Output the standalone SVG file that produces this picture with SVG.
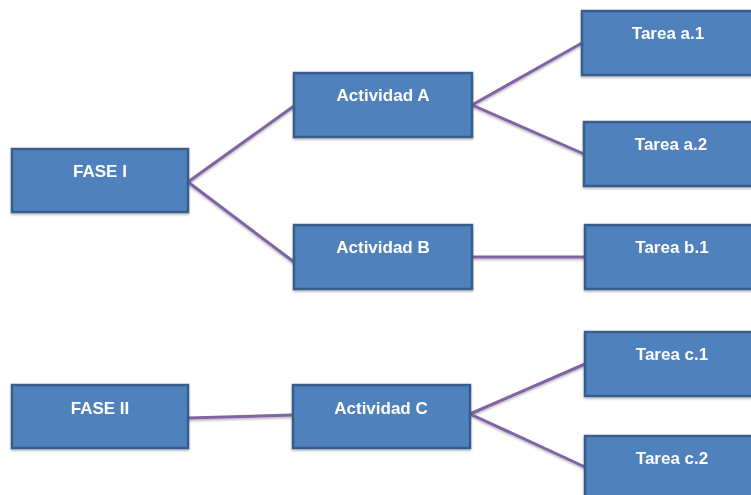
<svg xmlns="http://www.w3.org/2000/svg" width="751" height="495" viewBox="0 0 751 495">
  <style>
    .box { fill: #4f81bd; stroke: #385d8a; stroke-width: 2.5; }
    .lbl { fill: #ffffff; font-family: "Liberation Sans", Arial, sans-serif; font-weight: bold; font-size: 17px; text-anchor: middle; }
    .link { stroke: #8064a2; stroke-width: 3; fill: none; stroke-linecap: round; }
  </style>
  <defs>
    <filter id="shadow" x="-10%" y="-10%" width="120%" height="130%">
      <feDropShadow dx="0" dy="1.5" stdDeviation="1.2" flood-color="#000000" flood-opacity="0.3"/>
    </filter>
  </defs>
  <rect width="751" height="495" fill="#ffffff"/>

  <!-- connectors -->
  <g id="connectors" filter="url(#shadow)">
    <line class="link" x1="188" y1="182" x2="294" y2="106"/>
    <line class="link" x1="188" y1="182" x2="294" y2="262"/>
    <line class="link" x1="472" y1="105" x2="582" y2="43"/>
    <line class="link" x1="472" y1="105" x2="584" y2="154"/>
    <line class="link" x1="472" y1="257" x2="585" y2="257"/>
    <line class="link" x1="188" y1="418" x2="293" y2="415"/>
    <line class="link" x1="470" y1="414" x2="585" y2="364"/>
    <line class="link" x1="470" y1="414" x2="585" y2="467"/>
  </g>

  <!-- phase nodes -->
  <g id="fase1" filter="url(#shadow)">
    <rect class="box" x="12" y="149" width="176" height="63"/>
    <text class="lbl" x="100" y="177">FASE I</text>
  </g>
  <g id="fase2" filter="url(#shadow)">
    <rect class="box" x="12" y="385" width="176" height="63"/>
    <text class="lbl" x="100" y="414">FASE II</text>
  </g>

  <!-- activity nodes -->
  <g id="actividadA" filter="url(#shadow)">
    <rect class="box" x="294" y="73" width="178" height="64"/>
    <text class="lbl" x="383" y="101">Actividad A</text>
  </g>
  <g id="actividadB" filter="url(#shadow)">
    <rect class="box" x="294" y="225" width="178" height="64"/>
    <text class="lbl" x="383" y="253">Actividad B</text>
  </g>
  <g id="actividadC" filter="url(#shadow)">
    <rect class="box" x="293" y="385" width="177" height="63"/>
    <text class="lbl" x="381" y="414">Actividad C</text>
  </g>

  <!-- task nodes -->
  <g id="tareaA1" filter="url(#shadow)">
    <rect class="box" x="582" y="11" width="180" height="64"/>
    <text class="lbl" x="668" y="39">Tarea a.1</text>
  </g>
  <g id="tareaA2" filter="url(#shadow)">
    <rect class="box" x="584" y="122" width="180" height="64"/>
    <text class="lbl" x="671" y="150">Tarea a.2</text>
  </g>
  <g id="tareaB1" filter="url(#shadow)">
    <rect class="box" x="585" y="225" width="180" height="64"/>
    <text class="lbl" x="672" y="253">Tarea b.1</text>
  </g>
  <g id="tareaC1" filter="url(#shadow)">
    <rect class="box" x="585" y="332" width="180" height="64"/>
    <text class="lbl" x="672" y="360">Tarea c.1</text>
  </g>
  <g id="tareaC2" filter="url(#shadow)">
    <rect class="box" x="585" y="436" width="180" height="64"/>
    <text class="lbl" x="672" y="464">Tarea c.2</text>
  </g>
</svg>
